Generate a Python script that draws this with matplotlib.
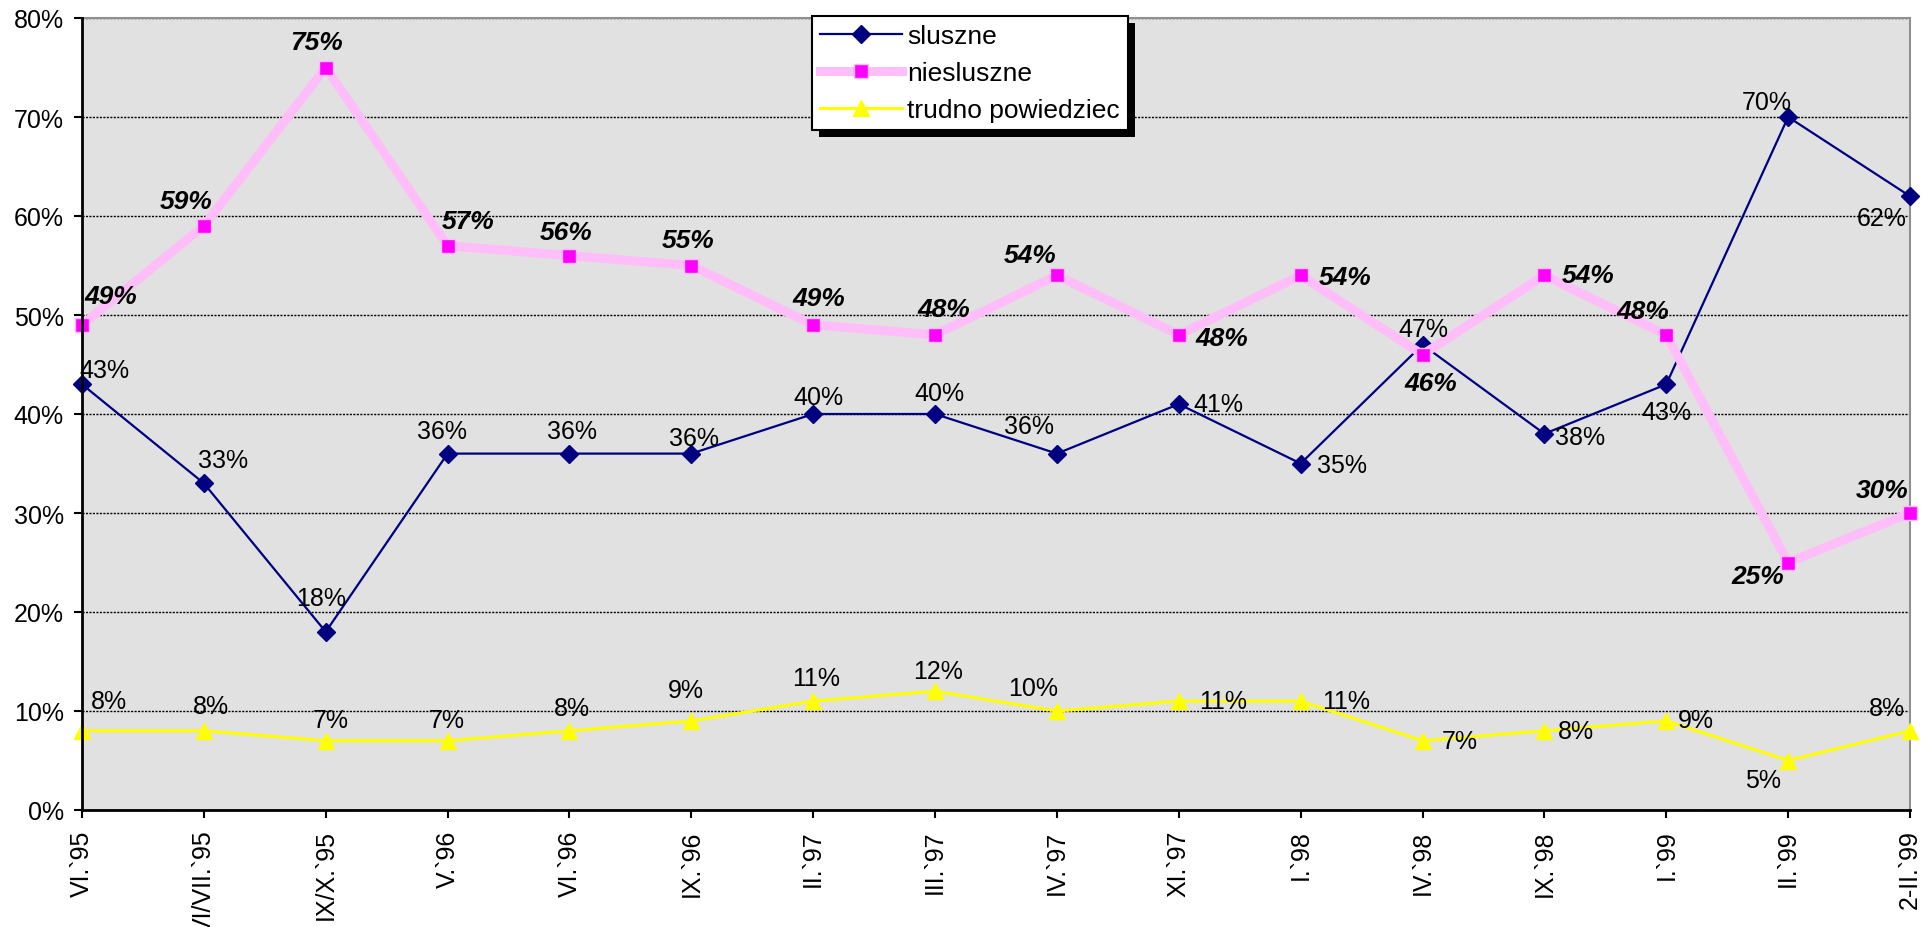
import matplotlib
matplotlib.use('Agg')
import matplotlib.pyplot as plt
from matplotlib.lines import Line2D
from matplotlib.patches import Rectangle
from matplotlib.ticker import FuncFormatter, MultipleLocator

plt.rcParams['font.family'] = ['Liberation Sans', 'DejaVu Sans']

# data
periods = ['VI.`95', 'VI/VII.`95', 'IX/X.`95', 'V.`96', 'VI.`96', 'IX.`96', 'II.`97', 'III.`97',
           'IV.`97', 'XI.`97', 'I.`98', 'IV.`98', 'IX.`98', 'I.`99', 'II.`99', '2-II.`99']
sluszne = [43, 33, 18, 36, 36, 36, 40, 40, 36, 41, 35, 47, 38, 43, 70, 62]
niesluszne = [49, 59, 75, 57, 56, 55, 49, 48, 54, 48, 54, 46, 54, 48, 25, 30]
trudno = [8, 8, 7, 7, 8, 9, 11, 12, 10, 11, 11, 7, 8, 9, 5, 8]

# label offsets (pixels, dx, dy) per point
off_sl = [(22, 14), (19, 23), (-5, 34), (-6, 23), (3, 23), (3, 16), (5, 17), (4, 21),
          (-28, 28), (40, 0), (41, -2), (1, 16), (36, -3), (0, -28), (-21, 15), (-28, -22)]
off_ni = [(29, 29), (-18, 25), (-9, 26), (21, 25), (-3, 24), (-3, 26), (6, 27), (9, 26),
          (-27, 20), (43, -3), (44, -2), (8, -28), (44, 0), (-23, 24), (-30, -14), (-28, 23)]
off_tr = [(27, 30), (7, 25), (5, 21), (-1, 21), (2, 23), (-5, 31), (3, 23), (3, 20),
          (-24, 23), (44, 0), (45, 0), (37, 0), (32, 0), (30, 1), (-25, -20), (-23, 23)]

NAVY = '#000080'
PINK = '#FFBDF9'
MAGENTA = '#FF00FF'
YELLOW = '#FFFF00'

fig = plt.figure(figsize=(19.24, 9.28), dpi=100)
ax = fig.add_axes([82/1924, 117/928, 1828/1924, 792/928])
ax.set_facecolor('#E1E1E1')

x = list(range(len(periods)))
ax.plot(x, sluszne, color=NAVY, lw=1.6, marker='D', ms=9, mfc=NAVY, mec=NAVY,
        zorder=3, clip_on=False)
ax.plot(x, niesluszne, color=PINK, lw=6.5, marker='s', ms=10, mfc=MAGENTA, mec=PINK,
        mew=1, zorder=4, clip_on=False)
ax.plot(x, trudno, color=YELLOW, lw=2.2, marker='^', ms=11, mfc=YELLOW, mec=YELLOW,
        zorder=5, clip_on=False)

for i in x:
    ax.annotate(f'{sluszne[i]}%', (i, sluszne[i]), xytext=off_sl[i], textcoords='offset pixels',
                ha='center', va='center', fontsize=18, zorder=6, annotation_clip=False)
    ax.annotate(f'{niesluszne[i]}%', (i, niesluszne[i]), xytext=off_ni[i], textcoords='offset pixels',
                ha='center', va='center', fontsize=19, fontweight='bold', fontstyle='italic',
                zorder=6, annotation_clip=False)
    ax.annotate(f'{trudno[i]}%', (i, trudno[i]), xytext=off_tr[i], textcoords='offset pixels',
                ha='center', va='center', fontsize=18, zorder=6, annotation_clip=False)

ax.set_xlim(0, len(periods) - 1)
ax.set_ylim(0, 80)
ax.yaxis.set_major_locator(MultipleLocator(10))
ax.yaxis.set_major_formatter(FuncFormatter(lambda v, p: f'{int(v)}%'))
ax.set_xticks(x)
ax.set_xticklabels(periods, rotation=90, ha='center', va='top')
ax.tick_params(axis='both', labelsize=18, length=6, width=1.5, direction='out', color='black')
ax.tick_params(axis='y', pad=7)
ax.tick_params(axis='x', pad=8)

ax.grid(axis='y', color='black', linestyle=(0, (1.5, 1)), lw=1.0, zorder=1)
ax.set_axisbelow(True)
for s in ['left', 'bottom']:
    ax.spines[s].set_linewidth(2)
    ax.spines[s].set_color('black')
for s in ['top', 'right']:
    ax.spines[s].set_linewidth(1.5)
    ax.spines[s].set_color('#909090')
ax.spines['left'].set_zorder(7)
ax.spines['bottom'].set_zorder(7)

handles = [
    Line2D([], [], color=NAVY, lw=1.6, marker='D', ms=9, mfc=NAVY, mec=NAVY),
    Line2D([], [], color=PINK, lw=6.5, marker='s', ms=10, mfc=MAGENTA, mec=PINK, mew=1),
    Line2D([], [], color=YELLOW, lw=2.2, marker='^', ms=11, mfc=YELLOW, mec=YELLOW),
]
leg = fig.legend(handles, ['sluszne', 'niesluszne', 'trudno powiedziec'],
                 loc='upper left', bbox_to_anchor=(812/1924, 1 - 17/928),
                 fontsize=19, frameon=True, fancybox=False, framealpha=1,
                 edgecolor='black', handlelength=3.1, handletextpad=0.2,
                 labelspacing=0.5, borderpad=0.3, borderaxespad=0)
leg.get_frame().set_linewidth(1.5)
leg.set_zorder(20)

fig.canvas.draw()
bb = leg.get_window_extent()
W, H = fig.bbox.width, fig.bbox.height
sh = Rectangle(((bb.x0 + 7) / W, (bb.y0 - 7) / H), bb.width / W, bb.height / H,
               transform=fig.transFigure, facecolor='black', edgecolor='none', zorder=19)
fig.add_artist(sh)

plt.savefig('out.png', dpi=100)
